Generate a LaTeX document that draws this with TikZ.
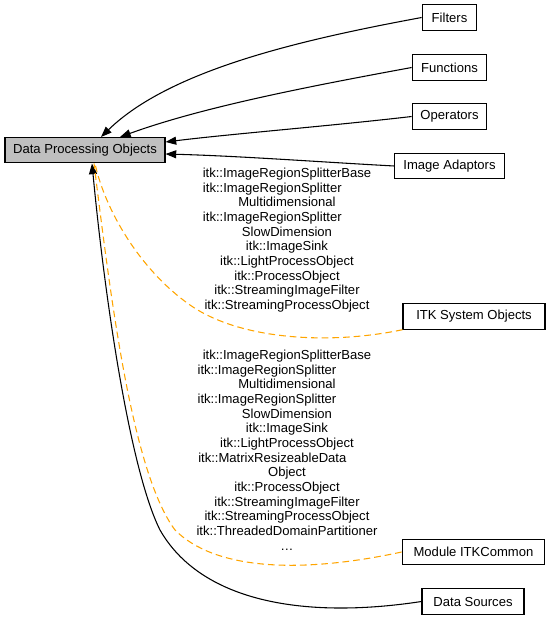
\documentclass[tikz,border=0pt]{standalone}
\usepackage{fontspec}
\setmainfont{Liberation Sans}
\usepackage{xcolor}
\usetikzlibrary{arrows.meta}

\definecolor{groupgray}{HTML}{BFBFBF}
\definecolor{linkorange}{HTML}{FFA500}

\tikzset{
  modbox/.style={rectangle, draw, line width=0.8pt, minimum height=19pt, inner sep=1pt,
    font=\fontsize{9.8}{11}\selectfont},
  dep/.style={-{Triangle[length=8pt,width=6pt]}, line width=0.8pt},
  member/.style={dashed, dash pattern=on 5pt off 3pt, linkorange, line width=0.8pt},
  classlist/.style={align=center, inner sep=0pt, font=\fontsize{9.8}{11}\selectfont}
}

\begin{document}
\begin{tikzpicture}[x=0.75pt, y=-0.75pt]
    \useasboundingbox (0,0) rectangle (551,625);

    % Nodes
    \node (dpo) [modbox, fill=groupgray, minimum width=120pt] at (85,150) {Data Processing Objects};
    \node (filters) [modbox, minimum width=41pt] at (449.5,17.5) {Filters};
    \node (functions) [modbox, minimum width=56pt] at (449.5,67.5) {Functions};
    \node (operators) [modbox, minimum width=56pt] at (449.5,116.5) {Operators};
    \node (adaptors) [modbox, minimum width=82pt] at (449.5,166) {Image Adaptors};
    \node (system) [modbox, minimum width=106.5pt] at (474,316.5) {ITK System Objects};
    \node (common) [modbox, minimum width=107pt] at (473.5,552) {Module ITKCommon};
    \node (sources) [modbox, minimum width=76.5pt] at (473,601.5) {Data Sources};

    % Class lists
    \node (systemlist) [classlist] at (287,240) {itk::ImageRegionSplitterBase\\
      itk::ImageRegionSplitter\kern22pt\\ Multidimensional\\
      itk::ImageRegionSplitter\kern22pt\\ SlowDimension\\ itk::ImageSink\\
      itk::LightProcessObject\\ itk::ProcessObject\\ itk::StreamingImageFilter\\
      itk::StreamingProcessObject};
    \node (commonlist) [classlist] at (287,450) {itk::ImageRegionSplitterBase\\
      itk::ImageRegionSplitter\kern30pt\\ Multidimensional\\
      itk::ImageRegionSplitter\kern30pt\\ SlowDimension\\ itk::ImageSink\\
      itk::LightProcessObject\\ itk::MatrixResizeableData\kern22pt\\ Object\\
      itk::ProcessObject\\ itk::StreamingImageFilter\\ itk::StreamingProcessObject\\
      itk::ThreadedDomainPartitioner\\ \dots};

    % Arrows
    \draw[dep] (filters.west) .. controls (300,40) and (170,70) .. (101,137);
    \draw[dep] (functions.west) .. controls (300,88) and (200,108) .. (120,137);
    \draw[dep] (operators.west) .. controls (330,126) and (230,134) .. (dpo.east |- 0,142);
    \draw[dep] (adaptors.west) .. controls (320,162) and (240,156) .. (dpo.east |- 0,154);
    \draw[dep] (sources.west) .. controls (300,620) and (200,600) .. (160,530)
      .. controls (130,470) and (105,300) .. (92,163.5);

    % Membership
    \draw[member] (system.south west) .. controls (330,345) and (240,340) .. (190,305)
      .. controls (140,270) and (105,210) .. (95,163.5);
    \draw[member] (common.west) .. controls (300,574) and (215,570) .. (175,530)
      .. controls (132,472) and (111,300) .. (94,163.5);
\end{tikzpicture}
\end{document}
